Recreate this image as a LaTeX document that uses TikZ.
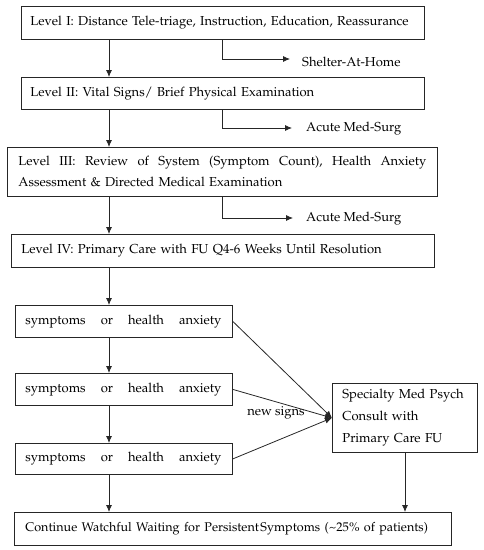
\documentclass[tikz,border=0pt]{standalone}
\usepackage[T1]{fontenc}
\usepackage{mathpazo}
\usetikzlibrary{arrows.meta}
\begin{document}
\begin{tikzpicture}[x=1pt,y=-1pt, font=\fontsize{13}{21}\selectfont,
  box/.style={draw=black!85, line width=0.8pt, anchor=north west, inner ysep=0pt, align=left},
  arr/.style={draw=black!85, line width=0.8pt, -{Latex[length=7pt,width=6pt]}},
  lab/.style={anchor=west, inner sep=0pt}]
\useasboundingbox (0,0) rectangle (484,550);
\node[box, inner xsep=9pt, text width=385pt, minimum height=33pt] (B1) at (21,6)
  {Level I: Distance Tele-triage, Instruction, Education, Reassurance};
\node[box, inner xsep=9pt, text width=385pt, minimum height=32pt] (B2) at (21,77)
  {Level II: Vital Signs/ Brief Physical Examination};
\node[box, inner xsep=11pt, text width=408pt, minimum height=49pt] (B3) at (7,147)
  {\makebox[408pt]{Level\hfill III:\hfill Review\hfill of\hfill System\hfill (Symptom\hfill Count),\hfill Health\hfill Anxiety}\\Assessment \& Directed Medical Examination};
\node[box, inner xsep=10pt, text width=403pt, minimum height=33pt] (B4) at (11,234)
  {Level IV: Primary Care with FU Q4-6 Weeks Until Resolution};
\node[box, inner xsep=10pt, text width=197pt, minimum height=32pt] (B5) at (15,305)
  {\makebox[196pt]{symptoms\hfill or\hfill health\hfill anxiety}};
\node[box, inner xsep=10pt, text width=197pt, minimum height=32pt] (B6) at (15,373)
  {\makebox[196pt]{symptoms\hfill or\hfill health\hfill anxiety}};
\node[box, inner xsep=10pt, text width=197pt, minimum height=31pt] (B7) at (15,443)
  {\makebox[196pt]{symptoms\hfill or\hfill health\hfill anxiety}};
\node[box, inner xsep=10pt, text width=125pt, minimum height=69pt, font=\fontsize{13}{22}\selectfont] (SP) at (332,383)
  {Specialty Med Psych\\Consult with\\Primary Care FU};
\node[box, inner xsep=11pt, text width=415pt, minimum height=33pt] (B8) at (14,512)
  {\makebox[415pt][l]{\fontsize{12.6}{21}\selectfont Continue Watchful Waiting for Persistent\kern1.5pt Symptoms (\textasciitilde25\% of patients)}};
\node[lab] (S1) at (302,62) {Shelter-At-Home};
\node[lab] (S2) at (306,129) {Acute Med-Surg};
\node[lab] (S3) at (306,219) {Acute Med-Surg};
\node (NS) at (276,413) {new signs};
\coordinate (x1) at (109,0);
\coordinate (x2) at (222,0);
\coordinate (x3) at (405,0);
\coordinate (e1) at (290,59);
\coordinate (e2) at (292,128);
\coordinate (e3) at (293,218);
\draw[arr] (B1.south -| x1) -- (B2.north -| x1);
\draw[arr] (B2.south -| x1) -- (B3.north -| x1);
\draw[arr] (B3.south -| x1) -- (B4.north -| x1);
\draw[arr] (B4.south -| x1) -- (B5.north -| x1);
\draw[arr] (B5.south -| x1) -- (B6.north -| x1);
\draw[arr] (B6.south -| x1) -- (B7.north -| x1);
\draw[arr] (B7.south -| x1) -- (B8.north -| x1);
\draw[arr] (B1.south -| x2) |- (e1);
\draw[arr] (B2.south -| x2) |- (e2);
\draw[arr] (B3.south -| x2) |- (e3);
\draw[arr] (B5.east) -- (SP.west);
\draw[arr] (B6.east) -- (SP.west);
\draw[arr] (B7.east) -- (SP.west);
\draw[arr] (SP.south -| x3) -- (B8.north -| x3);
\end{tikzpicture}
\end{document}
